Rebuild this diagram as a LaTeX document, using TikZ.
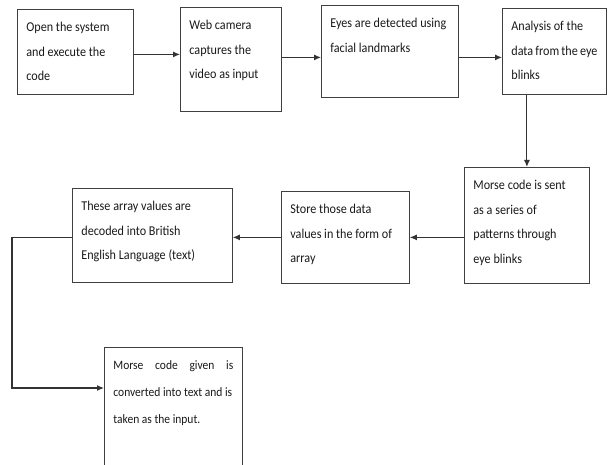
\documentclass[tikz,border=0pt]{standalone}
\usepackage{fontspec}
\setmainfont{Carlito}[FakeStretch=0.9]
\usetikzlibrary{arrows.meta}
\begin{document}
\begin{tikzpicture}[x=1pt, y=-1pt, font=\fontsize{13.5}{24.5}\selectfont]
	\tikzset{
		stepbox/.style={draw=black!75, line width=0.8pt, anchor=north west, inner xsep=9pt, inner ysep=13pt, text=black!90},
		flow/.style={draw=black!80, line width=1.1pt, -{Latex[length=7pt,width=6pt]}}
	}
	\useasboundingbox (0,0) rectangle (608,465);
	\node[stepbox] (open) at (17,9) {\parbox[t][59pt][t]{98pt}{Open the system\\and execute the\\code}};
	\node[stepbox] (cam) at (180,7) {\parbox[t][78pt][t]{83pt}{Web camera\\captures the\\video as input}};
	\node[stepbox] (eyes) at (321,5) {\parbox[t][66pt][t]{119pt}{Eyes are detected using\\facial landmarks}};
	\node[stepbox] (analysis) at (502,8) {\parbox[t][60pt][t]{86pt}{Analysis of the\\data from the eye\\blinks}};
	\node[stepbox] (morse) at (464,167) {\parbox[t][90pt][t]{107pt}{Morse code is sent\\as a series of\\patterns through\\eye blinks}};
	\node[stepbox] (store) at (281,191) {\parbox[t][66pt][t]{110pt}{Store those data\\values in the form of\\array}};
	\node[stepbox] (decode) at (72,188) {\parbox[t][68pt][t]{142pt}{These array values are\\decoded into British\\English Language (text)}};
	\node[stepbox] (input) at (104,347) {\parbox[t][94pt][t]{120pt}{\fontsize{12.8}{27}\selectfont\makebox[\linewidth][s]{Morse code given is}\\converted into text and is\\taken as the input.}};
	% connectors
	\draw[flow] ([yshift=-2.5pt]open.east) -- ([yshift=-2.5pt]open.east -| cam.west);
	\draw[flow] ([yshift=2pt]cam.east) -- ([yshift=2pt]cam.east -| eyes.west);
	\draw[flow] ([yshift=-6pt]eyes.east) -- ([yshift=-6pt]eyes.east -| analysis.west);
	\draw[flow] (morse.north |- analysis.south) -- (morse.north);
	\draw[flow] (morse.west |- store.east) -- (store.east);
	\draw[flow] (store.west) -- (store.west -| decode.east);
	\draw[flow] (decode.west |- store.west) -- ++(-60,0) |- ([yshift=-41pt]input.north west);
\end{tikzpicture}
\end{document}
